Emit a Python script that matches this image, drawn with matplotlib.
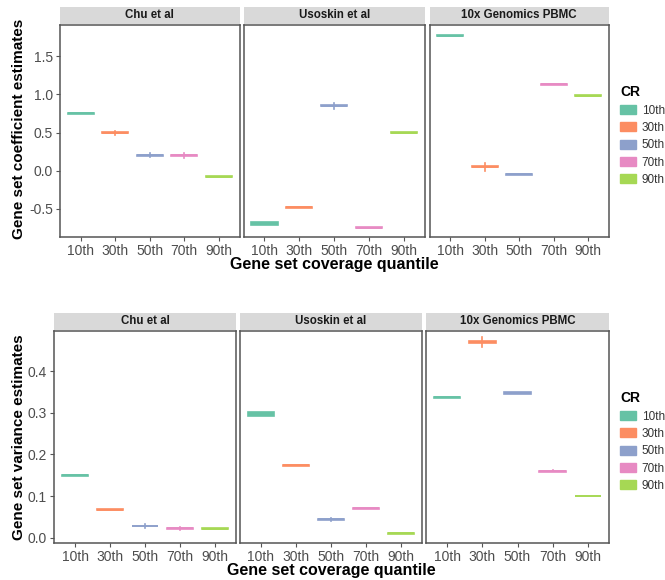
import numpy as np
import matplotlib
matplotlib.use("Agg")
import matplotlib.pyplot as plt
from matplotlib.patches import Rectangle, Patch

plt.rcParams['font.family'] = ['Liberation Sans', 'DejaVu Sans']

quantiles = ['10th', '30th', '50th', '70th', '90th']
datasets = ['Chu et al', 'Usoskin et al', '10x Genomics PBMC']
colors = ['#66C2A5', '#FC8D62', '#8DA0CB', '#E78AC3', '#A6D854']

# coefficient estimates: medians, half box height, whisker reach
coef_med = {
    'Chu et al': [0.75, 0.50, 0.20, 0.20, -0.08],
    'Usoskin et al': [-0.69, -0.48, 0.85, -0.75, 0.50],
    '10x Genomics PBMC': [1.77, 0.05, -0.05, 1.13, 0.98],
}
coef_box = {
    'Chu et al': [0.006, 0.006, 0.006, 0.006, 0.006],
    'Usoskin et al': [0.022, 0.006, 0.006, 0.006, 0.006],
    '10x Genomics PBMC': [0.006, 0.008, 0.012, 0.006, 0.006],
}
coef_whisk = {
    'Chu et al': [0.0, 0.02, 0.02, 0.03, 0.0],
    'Usoskin et al': [0.0, 0.0, 0.03, 0.0, 0.0],
    '10x Genomics PBMC': [0.0, 0.04, 0.0, 0.0, 0.0],
}

# variance estimates
var_med = {
    'Chu et al': [0.150, 0.067, 0.028, 0.022, 0.021],
    'Usoskin et al': [0.297, 0.174, 0.044, 0.070, 0.010],
    '10x Genomics PBMC': [0.338, 0.470, 0.348, 0.160, 0.100],
}
var_box = {
    'Chu et al': [0.001, 0.001, 0.001, 0.001, 0.001],
    'Usoskin et al': [0.005, 0.001, 0.001, 0.001, 0.001],
    '10x Genomics PBMC': [0.001, 0.002, 0.003, 0.001, 0.001],
}
var_whisk = {
    'Chu et al': [0.0, 0.0, 0.003, 0.002, 0.0],
    'Usoskin et al': [0.0, 0.0, 0.002, 0.0, 0.0],
    '10x Genomics PBMC': [0.0, 0.01, 0.0, 0.002, 0.0],
}

coef_ticks = [-0.5, 0.0, 0.5, 1.0, 1.5]
var_ticks = [0.0, 0.1, 0.2, 0.3, 0.4]

W, H = 665, 580
fig = plt.figure(figsize=(W / 100, H / 100), dpi=100)


def rect(x0, y0, x1, y1):
    return [x0 / W, 1 - y1 / H, (x1 - x0) / W, (y1 - y0) / H]


def draw_panel(ax, title, med, box, whisk, ylim, yticks, show_y):
    stats = []
    for m, b, w in zip(med, box, whisk):
        stats.append(dict(med=m, q1=m - b, q3=m + b, whislo=m - b - w,
                          whishi=m + b + w, fliers=[]))
    parts = ax.bxp(stats, positions=np.arange(1, 6), widths=0.75,
                   patch_artist=True, showfliers=False, showcaps=False)
    for i, c in enumerate(colors):
        parts['boxes'][i].set(facecolor=c, edgecolor=c, linewidth=1.2)
        parts['medians'][i].set(color=c, linewidth=1.2)
        parts['whiskers'][2 * i].set(color=c, linewidth=1.2)
        parts['whiskers'][2 * i + 1].set(color=c, linewidth=1.2)
    ax.set_xlim(0.4, 5.6)
    ax.set_ylim(*ylim)
    ax.set_xticks(np.arange(1, 6))
    ax.set_xticklabels(quantiles)
    ax.set_yticks(yticks)
    ax.tick_params(labelsize=10, labelcolor='#4D4D4D', color='#555555',
                   length=3, width=0.8, pad=2)
    if show_y:
        ax.set_yticklabels(['%.1f' % t for t in yticks])
    else:
        ax.set_yticklabels([])
        ax.tick_params(axis='y', length=0)
    for s in ax.spines.values():
        s.set_color('#555555')
        s.set_linewidth(1.1)
    # facet strip
    h = 17 / (ax.get_position().height * H)
    ax.add_patch(Rectangle((0, 1.005), 1, h, transform=ax.transAxes,
                           clip_on=False, facecolor='#D9D9D9', edgecolor='none'))
    ax.text(0.5, 1.005 + h / 2, title, transform=ax.transAxes, ha='center',
            va='center', fontsize=8.3, fontweight='bold', color='#1A1A1A')


top_boxes = [(60, 25, 239.5, 237), (243.5, 25, 425, 237), (429.5, 25, 609, 237)]
bot_boxes = [(54, 331, 236, 543), (240, 331, 422, 543), (426, 331, 609, 543)]

for i, name in enumerate(datasets):
    ax = fig.add_axes(rect(*top_boxes[i]))
    draw_panel(ax, name, coef_med[name], coef_box[name], coef_whisk[name],
               (-0.87, 1.91), coef_ticks, i == 0)
    ax = fig.add_axes(rect(*bot_boxes[i]))
    draw_panel(ax, name, var_med[name], var_box[name], var_whisk[name],
               (-0.013, 0.497), var_ticks, i == 0)

fig.text(19 / W, 1 - 129 / H, 'Gene set coefficient estimates', rotation=90,
         ha='center', va='center', fontsize=11, fontweight='bold')
fig.text(19 / W, 1 - 437 / H, 'Gene set variance estimates', rotation=90,
         ha='center', va='center', fontsize=11, fontweight='bold')
fig.text(334 / W, 1 - 264 / H, 'Gene set coverage quantile',
         ha='center', va='center', fontsize=11.5, fontweight='bold')
fig.text(331 / W, 1 - 570 / H, 'Gene set coverage quantile',
         ha='center', va='center', fontsize=11.5, fontweight='bold')

handles = [Patch(facecolor=c, edgecolor=c) for c in colors]
for ytop in (76, 382):
    leg = fig.legend(handles, quantiles, title='CR', loc='upper left',
                     bbox_to_anchor=(611 / W, 1 - ytop / H), frameon=False,
                     fontsize=8.5, title_fontproperties={'weight': 'bold', 'size': 10},
                     handlelength=1.3, handleheight=0.8, labelspacing=0.45,
                     handletextpad=0.5, alignment='left', borderpad=0.3)
    for t in leg.get_texts():
        t.set_color('#333333')

fig.savefig('out.png', dpi=100)
